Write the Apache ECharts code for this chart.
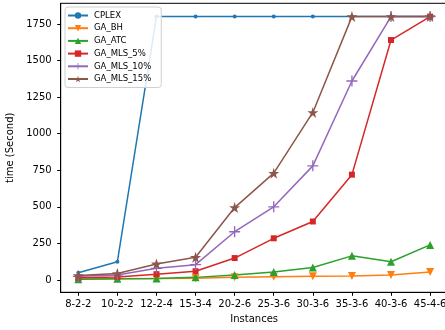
<!DOCTYPE html>
<html><head><meta charset="utf-8">
<script src="https://cdn.jsdelivr.net/npm/echarts@6/dist/echarts.min.js"></script>
<style>html,body{margin:0;padding:0;background:#fff}#c{width:445px;height:330px}</style>
</head><body><div id="c"></div>
<script>
var categories = ['8-2-2','10-2-2','12-2-4','15-3-4','20-2-6','25-3-6','30-3-6','35-3-6','40-3-6','45-4-6'];
var yTicks = [0,250,500,750,1000,1250,1500,1750];
var cplex = [50,125,1800,1800,1800,1800,1800,1800,1800,1800];
var gaBH  = [5,8,10,12,18,22,25,28,35,55];
var gaATC = [5,8,10,18,35,55,85,165,125,240];
var mls5  = [15,20,40,60,150,285,400,720,1640,1800];
var mls10 = [25,35,80,105,330,500,780,1360,1800,1800];
var mls15 = [30,45,110,155,495,730,1145,1800,1800,1800];

var FONT = 'DejaVu Sans';
var STAR = 'path://M50,0 L61.23,34.55 L97.55,34.55 L68.17,55.9 L79.39,90.45 L50,69.1 L20.61,90.45 L31.83,55.9 L2.45,34.55 L38.77,34.55 Z';
var PLUS = 'path://M4.4,0 H5.6 V4.4 H10 V5.6 H5.6 V10 H4.4 V5.6 H0 V4.4 H4.4 Z';

function pts(arr){ return arr.map(function(v,i){ return [i,v]; }); }
function mk(name, arr, color, symbol, size, rot){
  return {
    name: name, type: 'line', data: pts(arr),
    symbol: symbol, symbolSize: size, symbolRotate: rot || 0,
    showSymbol: true,
    lineStyle: {color: color, width: 1.5},
    itemStyle: {color: color, borderWidth: 0},
    animation: false
  };
}

var chart = echarts.init(document.getElementById('c'), null, {renderer: 'canvas'});
chart.setOption({
  backgroundColor: '#fff',
  animation: false,
  grid: {left: 60.7, top: 3.3, width: 387, height: 289, show: true, borderColor: '#000', borderWidth: 1,
    backgroundColor: 'transparent', containLabel: false, outerBoundsMode: 'none'},
  legend: {
    orient: 'vertical', left: 65, top: 7,
    padding: [4, 10, 4, 2],
    itemWidth: 20, itemHeight: 8, itemGap: 3.7,
    borderColor: '#d0d0d0', borderWidth: 1, borderRadius: 3,
    backgroundColor: 'rgba(255,255,255,0.85)',
    textStyle: {fontFamily: FONT, fontSize: 8.5, color: '#000', padding: [0,0,0,1]},
    data: ['CPLEX','GA_BH','GA_ATC','GA_MLS_5%','GA_MLS_10%','GA_MLS_15%']
  },
  xAxis: {
    type: 'value', min: -0.45, max: 9.45,
    name: 'Instances', nameLocation: 'middle', nameGap: 21,
    nameTextStyle: {fontFamily: FONT, fontSize: 10, color: '#000'},
    axisLine: {show: true, onZero: false, lineStyle: {color: '#000', width: 1}},
    axisTick: {show: true, length: 3.5, customValues: [0,1,2,3,4,5,6,7,8,9], lineStyle: {color: '#000'}},
    axisLabel: {customValues: [0,1,2,3,4,5,6,7,8,9], margin: 7, fontFamily: FONT, fontSize: 10, color: '#000',
      hideOverlap: false,
      formatter: function(v){ return categories[Math.round(v)] || ''; }},
    splitLine: {show: false}
  },
  yAxis: {
    type: 'value', min: -84, max: 1891,
    name: 'time (Second)', nameLocation: 'middle', nameGap: 44, nameRotate: 90,
    nameTextStyle: {fontFamily: FONT, fontSize: 10, color: '#000'},
    axisLine: {show: true, onZero: false, lineStyle: {color: '#000', width: 1}},
    axisTick: {show: true, length: 3.5, customValues: yTicks, lineStyle: {color: '#000'}},
    axisLabel: {customValues: yTicks, margin: 9, fontFamily: FONT, fontSize: 10, color: '#000',
      formatter: function(v){ return String(v); }},
    splitLine: {show: false}
  },
  series: [
    mk('CPLEX', cplex, '#1f77b4', 'circle', 4),
    mk('GA_BH', gaBH, '#ff7f0e', 'triangle', 8, 180),
    mk('GA_ATC', gaATC, '#2ca02c', 'triangle', 8),
    mk('GA_MLS_5%', mls5, '#d62728', 'rect', 6),
    mk('GA_MLS_10%', mls10, '#9467bd', PLUS, 11),
    mk('GA_MLS_15%', mls15, '#8c564b', STAR, 11)
  ]
});
</script></body></html>
